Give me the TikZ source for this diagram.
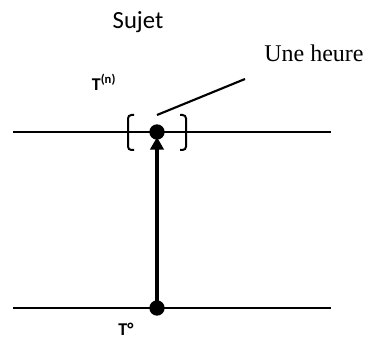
\documentclass[tikz,border=0pt]{standalone}
\usepackage{fontspec}
\setmainfont{Liberation Serif}
\newfontfamily\calibri{Carlito}
\usetikzlibrary{arrows.meta}

\begin{document}
\begin{tikzpicture}[
	x=0.75pt, y=-0.75pt,
	axis/.style={line width=1.6pt, draw=black},
	event/.style={circle, fill=black, inner sep=0pt, minimum size=11.5pt},
	label/.style={font=\calibri\bfseries\fontsize{13.5}{15}\selectfont, inner sep=0pt},
	bracket/.style={line width=1.5pt, rounded corners=2.5pt},
	arrow/.style={-{Triangle[width=10pt, length=9.5pt]}, line width=2.6pt}
]
\useasboundingbox (0,0) rectangle (372,338);
\coordinate (topL) at (13,132);
\coordinate (topR) at (331,132);
\coordinate (botL) at (13,308);
\coordinate (botR) at (331,308);
\node (tn) [event] at (157,132) {};
\node (t0) [event] at (157,308) {};
\node (sujet) [font=\calibri\fontsize{18.5}{20}\selectfont, inner sep=0pt] at (138,22) {Sujet};
\node (heure) [font=\fontsize{18}{20}\selectfont, inner sep=0pt] at (314,53) {Une heure};
\node (ltn) [label] at (104,82) {T\textsuperscript{(n)}};
\node (lt0) [label] at (126,329) {T°};
\coordinate (leadA) at (157,115);
\coordinate (leadB) at (245,79);
\draw [axis] (topL) -- (topR);
\draw [axis] (botL) -- (botR);
\draw [arrow] (t0.center) -- (157,137);
\draw [axis] (leadA) -- (leadB);
% brackets round the event
\draw [bracket] (134,115) -- (128,115) -- (128,150) -- (134,150);
\draw [bracket] (180,115) -- (186,115) -- (186,150) -- (180,150);
\end{tikzpicture}
\end{document}
